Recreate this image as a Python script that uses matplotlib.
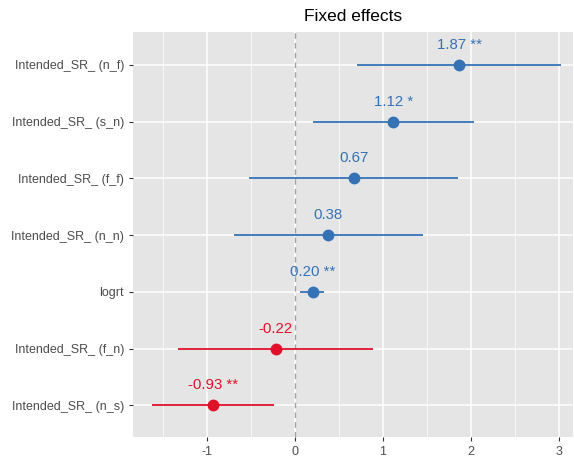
import matplotlib
matplotlib.use("Agg")
import matplotlib.pyplot as plt
import numpy as np

terms = ["Intended_SR_ (n_f)", "Intended_SR_ (s_n)", "Intended_SR_ (f_f)",
         "Intended_SR_ (n_n)", "logrt", "Intended_SR_ (f_n)", "Intended_SR_ (n_s)"]
estimates = [1.87, 1.12, 0.67, 0.38, 0.20, -0.22, -0.93]
ci_low = [0.71, 0.20, -0.52, -0.69, 0.06, -1.33, -1.62]
ci_high = [3.02, 2.04, 1.85, 1.45, 0.33, 0.89, -0.24]
labels = ["1.87 **", "1.12 *", "0.67", "0.38", "0.20 **", "-0.22", "-0.93 **"]
x_ticks = [-1, 0, 1, 2, 3]
x_minor = [-1.5, -0.5, 0.5, 1.5, 2.5]

blue = "#3572B5"
red = "#E0102A"

plt.rcParams['font.family'] = ['Liberation Sans', 'DejaVu Sans']
fig = plt.figure(figsize=(5.74, 4.57), dpi=100)
ax = fig.add_axes([133/574, 1-437/457, (573-133)/574, (437-32)/457])
ax.set_facecolor("#E5E5E5")

n = len(terms)
ypos = np.arange(n, 0, -1)

for g in x_ticks:
    ax.axvline(g, color="white", lw=1.1, zorder=1)
for g in x_minor:
    ax.axvline(g, color="white", lw=0.5, zorder=1)
for y in ypos:
    ax.axhline(y, color="white", lw=1.1, zorder=1)
ax.axvline(0, color="#A0A0A0", lw=1.0, ls=(0, (4, 3)), zorder=2)

for y, est, lo, hi, lab in zip(ypos, estimates, ci_low, ci_high, labels):
    c = blue if est > 0 else red
    ax.plot([lo, hi], [y, y], color=c, lw=1.3, zorder=3, solid_capstyle="butt")
    ax.plot(est, y, "o", color=c, ms=7.5, zorder=4)
    ax.annotate(lab, (est, y), xytext=(0, 20), textcoords="offset pixels",
                ha="center", va="center", color=c, fontsize=10.8)

ax.set_xlim(-1.84, 3.16)
ax.set_ylim(0.44, 7.58)
ax.set_xticks(x_ticks)
ax.set_xticklabels([str(t) for t in x_ticks])
ax.set_yticks(ypos)
ax.set_yticklabels(terms)
for s in ax.spines.values():
    s.set_visible(False)
ax.tick_params(axis="both", colors="#333333", labelcolor="#4D4D4D", labelsize=9,
               length=3, width=0.8)
ax.set_title("Fixed effects", fontsize=12.5, color="black", pad=8)

fig.savefig("out.png", dpi=100)
